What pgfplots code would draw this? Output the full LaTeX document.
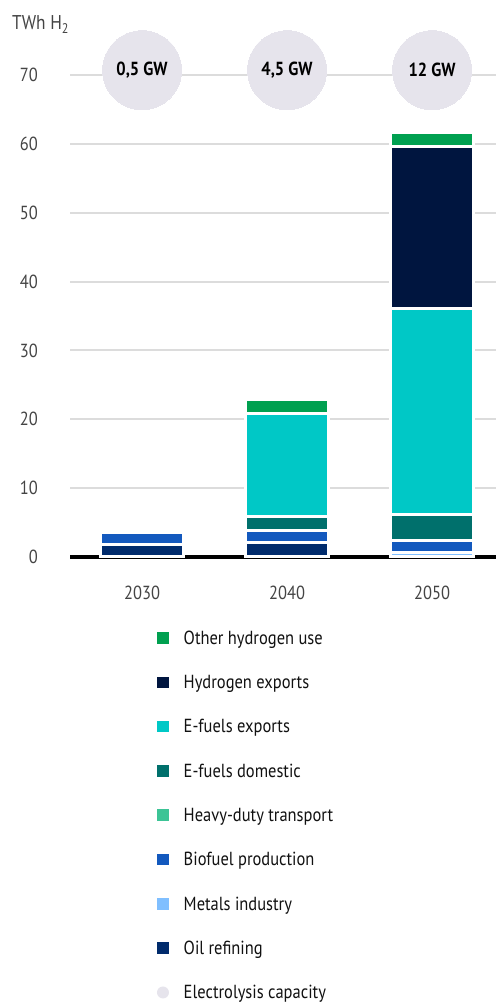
\documentclass[border=0pt]{standalone}
\usepackage{fontspec}
\setmainfont{PT Sans}[FakeStretch=0.87]
\usepackage{pgfplots}
\pgfplotsset{compat=1.18}
\definecolor{cOther}{HTML}{00A050}
\definecolor{cHexp}{HTML}{00153F}
\definecolor{cEexp}{HTML}{00C8C6}
\definecolor{cEdom}{HTML}{00706C}
\definecolor{cHeavy}{HTML}{3CC496}
\definecolor{cBio}{HTML}{1359BE}
\definecolor{cMetal}{HTML}{80BFFF}
\definecolor{cOil}{HTML}{002B6C}
\definecolor{cCirc}{HTML}{E6E4EC}
\definecolor{cGrid}{HTML}{DCDCDC}
\definecolor{cTick}{HTML}{444444}
\definecolor{cLeg}{HTML}{111111}
\pgfplotsset{base/.style={at={(70bp,448bp)}, anchor=south west, scale only axis,
  width=426bp, height=482bp, xmin=-0.497, xmax=2.441, ymin=0, ymax=70, clip=false}}
\newcommand{\sq}[1]{\addlegendimage{legend image code/.code={\fill[#1, draw=none] (0bp,0.5bp) rectangle (11.5bp,12bp); \path[draw=none, fill=none] (0bp,0bp) -- (26.5bp,0bp);}}}
\begin{document}
\begin{tikzpicture}
\path[use as bounding box] (0,0) rectangle (496bp,1005bp);
\node[anchor=base west, inner sep=0pt, text=cTick, font=\fontsize{20}{24}\selectfont] at (12bp,975bp) {TWh H\textsubscript{2}};
\begin{axis}[base, ybar stacked, bar width=0.572,
  xtick={0,1,2}, xticklabels={2030,2040,2050},
  ytick={0,10,...,70}, ymajorgrids,
  major grid style={cGrid, line width=2bp},
  axis line style={draw=none}, major tick length=0pt, tick style={draw=none},
  ticklabel style={font=\fontsize{19}{22}\selectfont, text=cTick},
  /pgf/number format/assume math mode=true,
  yticklabel style={anchor=east, inner sep=0pt, xshift=-32bp},
  xticklabel style={anchor=north, inner sep=0pt, yshift=-29bp},
  every axis plot/.append style={draw=white, line width=3bp}]
\addplot[fill=cOil] coordinates {(0,1.8) (1,2.1) (2,0)};
\addplot[fill=cMetal] coordinates {(0,0) (1,0) (2,0.6)};
\addplot[fill=cBio] coordinates {(0,1.7) (1,1.8) (2,1.8)};
\addplot[fill=cHeavy] coordinates {(0,0) (1,0) (2,0)};
\addplot[fill=cEdom] coordinates {(0,0) (1,2.0) (2,3.7)};
\addplot[fill=cEexp] coordinates {(0,0) (1,15.0) (2,30.0)};
\addplot[fill=cHexp] coordinates {(0,0) (1,0) (2,23.5)};
\addplot[fill=cOther] coordinates {(0,0) (1,2.0) (2,2.1)};
\draw[black, line width=4bp] (axis cs:-0.497,0) -- (axis cs:2.441,0);
\end{axis}
\begin{axis}[base, hide axis,
  legend style={at={(0.2042,-0.1313)}, anchor=north west, draw=none, fill=none,
    inner sep=0pt, outer sep=0pt, row sep=0pt,
    font=\fontsize{19}{22}\selectfont, text=cLeg,
    nodes={inner sep=0pt, anchor=base west, text height=24bp, text depth=20.3bp}}]
\addplot[forget plot, only marks, color=cCirc, mark=*, mark size=39.5bp,
  mark options={fill=cCirc, draw=cCirc, line width=0pt},
  nodes near coords, point meta=explicit symbolic,
  every node near coord/.style={anchor=center, inner sep=0pt, text=black,
    font=\bfseries\fontsize{19}{22}\selectfont}]
  coordinates {(0,70.7) [0,5 GW] (1,70.7) [4,5 GW] (2,70.7) [12 GW]};
\sq{cOther}\addlegendentry{Other hydrogen use}
\sq{cHexp}\addlegendentry{Hydrogen exports}
\sq{cEexp}\addlegendentry{E-fuels exports}
\sq{cEdom}\addlegendentry{E-fuels domestic}
\sq{cHeavy}\addlegendentry{Heavy-duty transport}
\sq{cBio}\addlegendentry{Biofuel production}
\sq{cMetal}\addlegendentry{Metals industry}
\sq{cOil}\addlegendentry{Oil refining}
\addlegendimage{legend image code/.code={\fill[cCirc, draw=none] (5.75bp,6.2bp) circle (6bp); \path[draw=none, fill=none] (0bp,0bp) -- (26.5bp,0bp);}}
\addlegendentry{Electrolysis capacity}
\end{axis}
\end{tikzpicture}
\end{document}
